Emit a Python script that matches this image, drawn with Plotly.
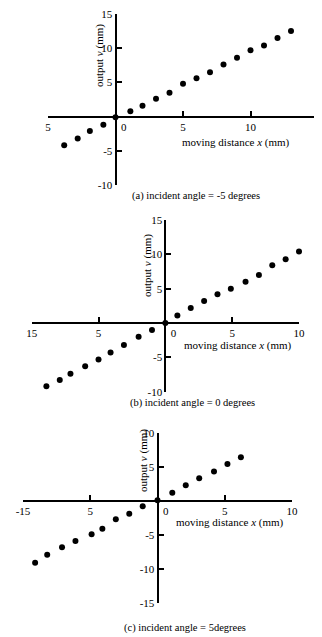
import plotly.graph_objects as go

OFF = 8  # the page body margin shifts the figure by this many pixels
W, H = 322 - OFF, 637 - OFF

# ---- data ----
a_x = [-3.8, -2.8, -1.9, -0.9, 0.0, 1.1, 2.0, 3.0, 4.0, 5.0, 6.0, 7.0, 8.0, 9.0, 10.0, 11.0, 12.0, 13.0]
a_y = [-4.2, -3.2, -2.1, -1.2, -0.1, 0.8, 1.6, 2.6, 3.5, 4.8, 5.6, 6.5, 7.6, 8.6, 9.7, 10.4, 11.5, 12.5]

b_x = [-8.9, -7.9, -7.1, -6.0, -5.0, -4.1, -3.1, -2.0, -1.0, 0.0, 0.9, 1.9, 2.9, 3.9, 4.9, 6.0, 7.0, 8.0, 9.0, 10.0]
b_y = [-9.2, -8.3, -7.4, -6.3, -5.3, -4.3, -3.2, -2.0, -1.0, 0.0, 1.1, 2.2, 3.2, 4.2, 5.0, 6.0, 7.0, 8.4, 9.3, 10.4]

c_x = [-10.2, -9.1, -8.2, -7.1, -6.1, -4.9, -4.1, -3.1, -2.1, -1.1, 0.0, 1.1, 2.1, 3.1, 4.2, 5.2, 6.2]
c_y = [-9.9, -9.1, -7.9, -6.8, -5.9, -4.9, -4.1, -2.7, -1.9, -0.8, 0.1, 1.2, 2.3, 3.3, 4.3, 5.4, 6.4]

NB = "\u00a0"
a_xticks = [-5, 0, 5, 10, 15]
a_xtext = ["5", NB * 6 + "0", "5", "10", "1"]
b_xticks = [-10, -5, 0, 5, 10]
b_xtext = ["15", "5", NB * 6 + "0", "5", "10"]
c_xticks = [-10, -5, 0, 5, 10]
c_xtext = ["-15", "5", NB * 6 + "0", "5", "10"]

a_yticks = [-10, -5, 5, 10, 15]
a_ytext = ["-10", "-5", "5", "10", "15"]
b_yticks = [-10, -5, 5, 10, 15]
b_ytext = ["-10", "-5", "5", "10", "15"]
c_yticks = [-15, -10, -5, 5, 10]
c_ytext = ["-15", "-10", "-5", "5", "10"]

captions = ["(a) incident angle = -5 degrees",
            "(b) incident angle = 0 degrees",
            "(c) incident angle = 5degrees"]
xtitle = "moving distance <i>x</i> (mm)"
ytitle = "output <i>v</i> (mm)"

FONT = "Liberation Serif, Times New Roman, serif"


def px(x, y):
    return (x - OFF) / W, 1 - (y - OFF) / H


panels = [
    dict(x=a_x, y=a_y, xr=[-5, 15], yr=[-10, 15], box=(48, 318, 14, 185),
         xt=a_xticks, xtt=a_xtext, yt=a_yticks, ytt=a_ytext,
         xtitle=(236, 142), ytitle=(100, 56), cap=(196, 196)),
    dict(x=b_x, y=b_y, xr=[-10, 10], yr=[-10, 15], box=(31.7, 299, 220, 391.7),
         xt=b_xticks, xtt=b_xtext, yt=b_yticks, ytt=b_ytext,
         xtitle=(238, 345), ytitle=(147, 266), cap=(192, 403)),
    dict(x=c_x, y=c_y, xr=[-10, 10], yr=[-15, 10], box=(23, 292, 432.7, 603),
         xt=c_xticks, xtt=c_xtext, yt=c_yticks, ytt=c_ytext,
         xtitle=(230, 522), ytitle=(143, 461), cap=(185, 628)),
]

fig = go.Figure()
layout = dict(width=W, height=H, margin=dict(l=0, r=0, t=0, b=0, autoexpand=False),
              paper_bgcolor="white", plot_bgcolor="rgba(0,0,0,0)",
              showlegend=False, font=dict(family=FONT, color="black", size=11))
annotations = []

for i, p in enumerate(panels):
    n = "" if i == 0 else str(i + 1)
    l, r, t, b = p["box"]
    x0, y1 = px(l, t)
    x1, y0 = px(r, b)
    xpos0 = x0 + (0 - p["xr"][0]) / (p["xr"][1] - p["xr"][0]) * (x1 - x0)
    ypos0 = y0 + (0 - p["yr"][0]) / (p["yr"][1] - p["yr"][0]) * (y1 - y0)
    fig.add_trace(go.Scatter(x=p["x"], y=p["y"], mode="markers",
                             marker=dict(color="black", size=6),
                             cliponaxis=False,
                             xaxis="x" + n, yaxis="y" + n))
    common = dict(showgrid=False, zeroline=False, automargin=False,
                  showline=True, linecolor="black", linewidth=2,
                  ticks="inside", ticklen=5, tickwidth=1.5, tickcolor="black",
                  ticklabeloverflow="allow",
                  tickfont=dict(family=FONT, size=11, color="black"))
    # tick at the far right end of the axis: label drawn as an annotation
    xt, xtt = list(p["xt"]), list(p["xtt"])
    if xt[-1] == p["xr"][1] and i == 0:
        annotations.append(dict(text=xtt[-1], x=xt[-1], y=0, xref="x" + n, yref="y" + n,
                                xanchor="center", yanchor="middle", yshift=-10,
                                showarrow=False, font=dict(family=FONT, size=11)))
        xtt[-1] = " "
    layout["xaxis" + n] = dict(domain=[x0, x1], range=p["xr"], anchor="free",
                               position=ypos0, tickvals=xt, ticktext=xtt,
                               **common)
    layout["yaxis" + n] = dict(domain=[y0, y1], range=p["yr"], anchor="free",
                               position=xpos0, tickvals=p["yt"], ticktext=p["ytt"],
                               **common)
    ax, ay = px(*p["xtitle"])
    annotations.append(dict(text=xtitle, x=ax, y=ay, xref="paper", yref="paper",
                            xanchor="center", yanchor="middle",
                            showarrow=False, font=dict(family=FONT, size=11)))
    tx, ty = px(*p["ytitle"])
    annotations.append(dict(text=ytitle, x=tx, y=ty, xref="paper", yref="paper",
                            xanchor="center", yanchor="middle",
                            textangle=-90, showarrow=False,
                            font=dict(family=FONT, size=11)))
    cx, cy = px(*p["cap"])
    annotations.append(dict(text=captions[i], x=cx, y=cy, xref="paper", yref="paper",
                            xanchor="center", yanchor="middle",
                            showarrow=False, font=dict(family=FONT, size=10.5)))

layout["annotations"] = annotations
fig.update_layout(**layout)
fig.write_html("out.html")
